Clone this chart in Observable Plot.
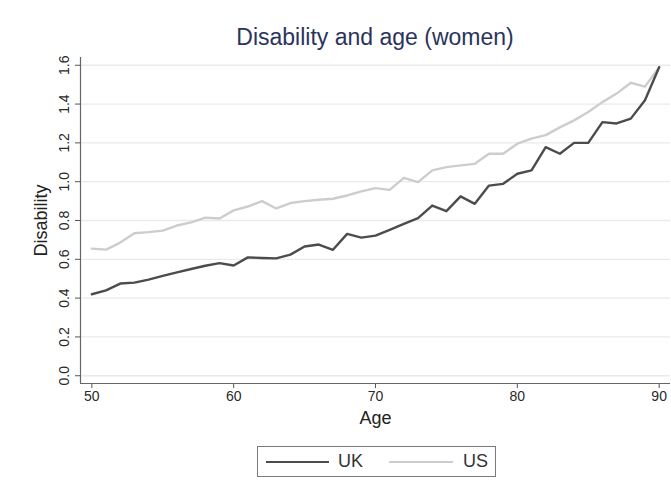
<!DOCTYPE html>
<html>
<head>
<meta charset="utf-8">
<script src="https://cdn.jsdelivr.net/npm/d3@7"></script>
<script src="https://cdn.jsdelivr.net/npm/@observablehq/plot@0.6"></script>
<style>
  body { margin: 0; background: #fff; font-family: "Liberation Sans", Arial, sans-serif; }
  #wrap { position: relative; width: 671px; height: 480px; overflow: hidden; background: #fff; }
  #title { position: absolute; left: 80px; width: 590px; top: 24px; text-align: center;
           font-size: 23px; color: #2b345c; line-height: 26px; }
  #chart { position: absolute; left: 0; top: 0; }
  #chart svg [aria-label="y-axis label"] text, #chart svg [aria-label="x-axis label"] text { font-size: 18px; fill: #222; }
  #legend { position: absolute; left: 257px; top: 446px; width: 239px; height: 31px;
            border: 1.5px solid #7a7a7a; box-sizing: border-box; font-size: 18px; color: #333; }
  .sw { position: absolute; top: 14px; height: 0; }
  .lb { position: absolute; top: 4px; line-height: 20px; }
</style>
</head>
<body>
<div id="wrap">
  <div id="chart"></div>
  <div id="title">Disability and age (women)</div>
  <div id="legend"></div>
</div>
<script>
const ages = [50,51,52,53,54,55,56,57,58,59,60,61,62,63,64,65,66,67,68,69,70,
              71,72,73,74,75,76,77,78,79,80,81,82,83,84,85,86,87,88,89,90];
const ukValues = [0.42,0.44,0.475,0.48,0.495,0.515,0.533,0.55,0.567,0.58,0.568,
                  0.61,0.607,0.605,0.624,0.666,0.676,0.649,0.731,0.712,0.722,
                  0.752,0.783,0.812,0.877,0.848,0.924,0.886,0.98,0.989,1.041,
                  1.058,1.178,1.144,1.20,1.20,1.307,1.30,1.325,1.42,1.59];
const usValues = [0.655,0.65,0.686,0.734,0.74,0.748,0.774,0.79,0.815,0.81,0.852,
                  0.872,0.90,0.862,0.89,0.90,0.907,0.912,0.929,0.95,0.967,
                  0.958,1.02,0.998,1.058,1.075,1.084,1.092,1.144,1.144,1.196,
                  1.222,1.24,1.28,1.316,1.359,1.41,1.454,1.51,1.49,1.59];
const seriesNames = ["UK", "US"];
const seriesColors = ["#4c4c4c", "#cdcdcd"];
const xTicks = [50, 60, 70, 80, 90];
const yTicks = [0, 0.2, 0.4, 0.6, 0.8, 1.0, 1.2, 1.4, 1.6];

const rows = [];
ages.forEach((a, i) => {
  rows.push({age: a, value: ukValues[i], series: "UK"});
  rows.push({age: a, value: usValues[i], series: "US"});
});

const xDom = [49.2, 90.8];
const yDom = [-0.04, 1.64];

const chart = Plot.plot({
  width: 671,
  height: 440,
  marginLeft: 80,
  marginRight: 1,
  marginTop: 57,
  marginBottom: 57,
  x: {domain: xDom},
  y: {domain: yDom},
  color: {domain: seriesNames, range: seriesColors},
  style: {fontFamily: '"Liberation Sans", Arial, sans-serif', fontSize: "14px", color: "#2a2a2a", background: "transparent"},
  marks: [
    Plot.gridY(yTicks, {stroke: "#eaeaea", strokeOpacity: 1, strokeWidth: 1.3}),
    Plot.axisY(yTicks, {tickFormat: d3.format(".1f"), tickRotate: -90, tickSize: 5, tickPadding: 7,
      label: "Disability", labelAnchor: "center", labelArrow: "none", labelOffset: 46, stroke: "#555"}),
    Plot.axisX(xTicks, {tickSize: 5, tickPadding: 3, label: "Age", labelAnchor: "center",
      labelArrow: "none", labelOffset: 40, stroke: "#555"}),
    Plot.ruleX([xDom[0]], {stroke: "#666", strokeWidth: 1.2}),
    Plot.ruleY([yDom[0]], {stroke: "#666", strokeWidth: 1.2}),
    Plot.line(rows, {x: "age", y: "value", z: "series", stroke: "series", strokeWidth: 2.4,
      sort: (a, b) => seriesNames.indexOf(b.series) - seriesNames.indexOf(a.series)})
  ]
});
document.getElementById("chart").appendChild(chart);

// Legend
const leg = document.getElementById("legend");
const swPos = [[8, 63, 80], [131, 64, 205]];
seriesNames.forEach((name, i) => {
  const sw = document.createElement("div");
  sw.className = "sw";
  sw.style.left = swPos[i][0] + "px";
  sw.style.width = swPos[i][1] + "px";
  sw.style.borderTop = "2.4px solid " + seriesColors[i];
  leg.appendChild(sw);
  const lb = document.createElement("div");
  lb.className = "lb";
  lb.style.left = swPos[i][2] + "px";
  lb.textContent = name;
  leg.appendChild(lb);
});
</script>
</body>
</html>
